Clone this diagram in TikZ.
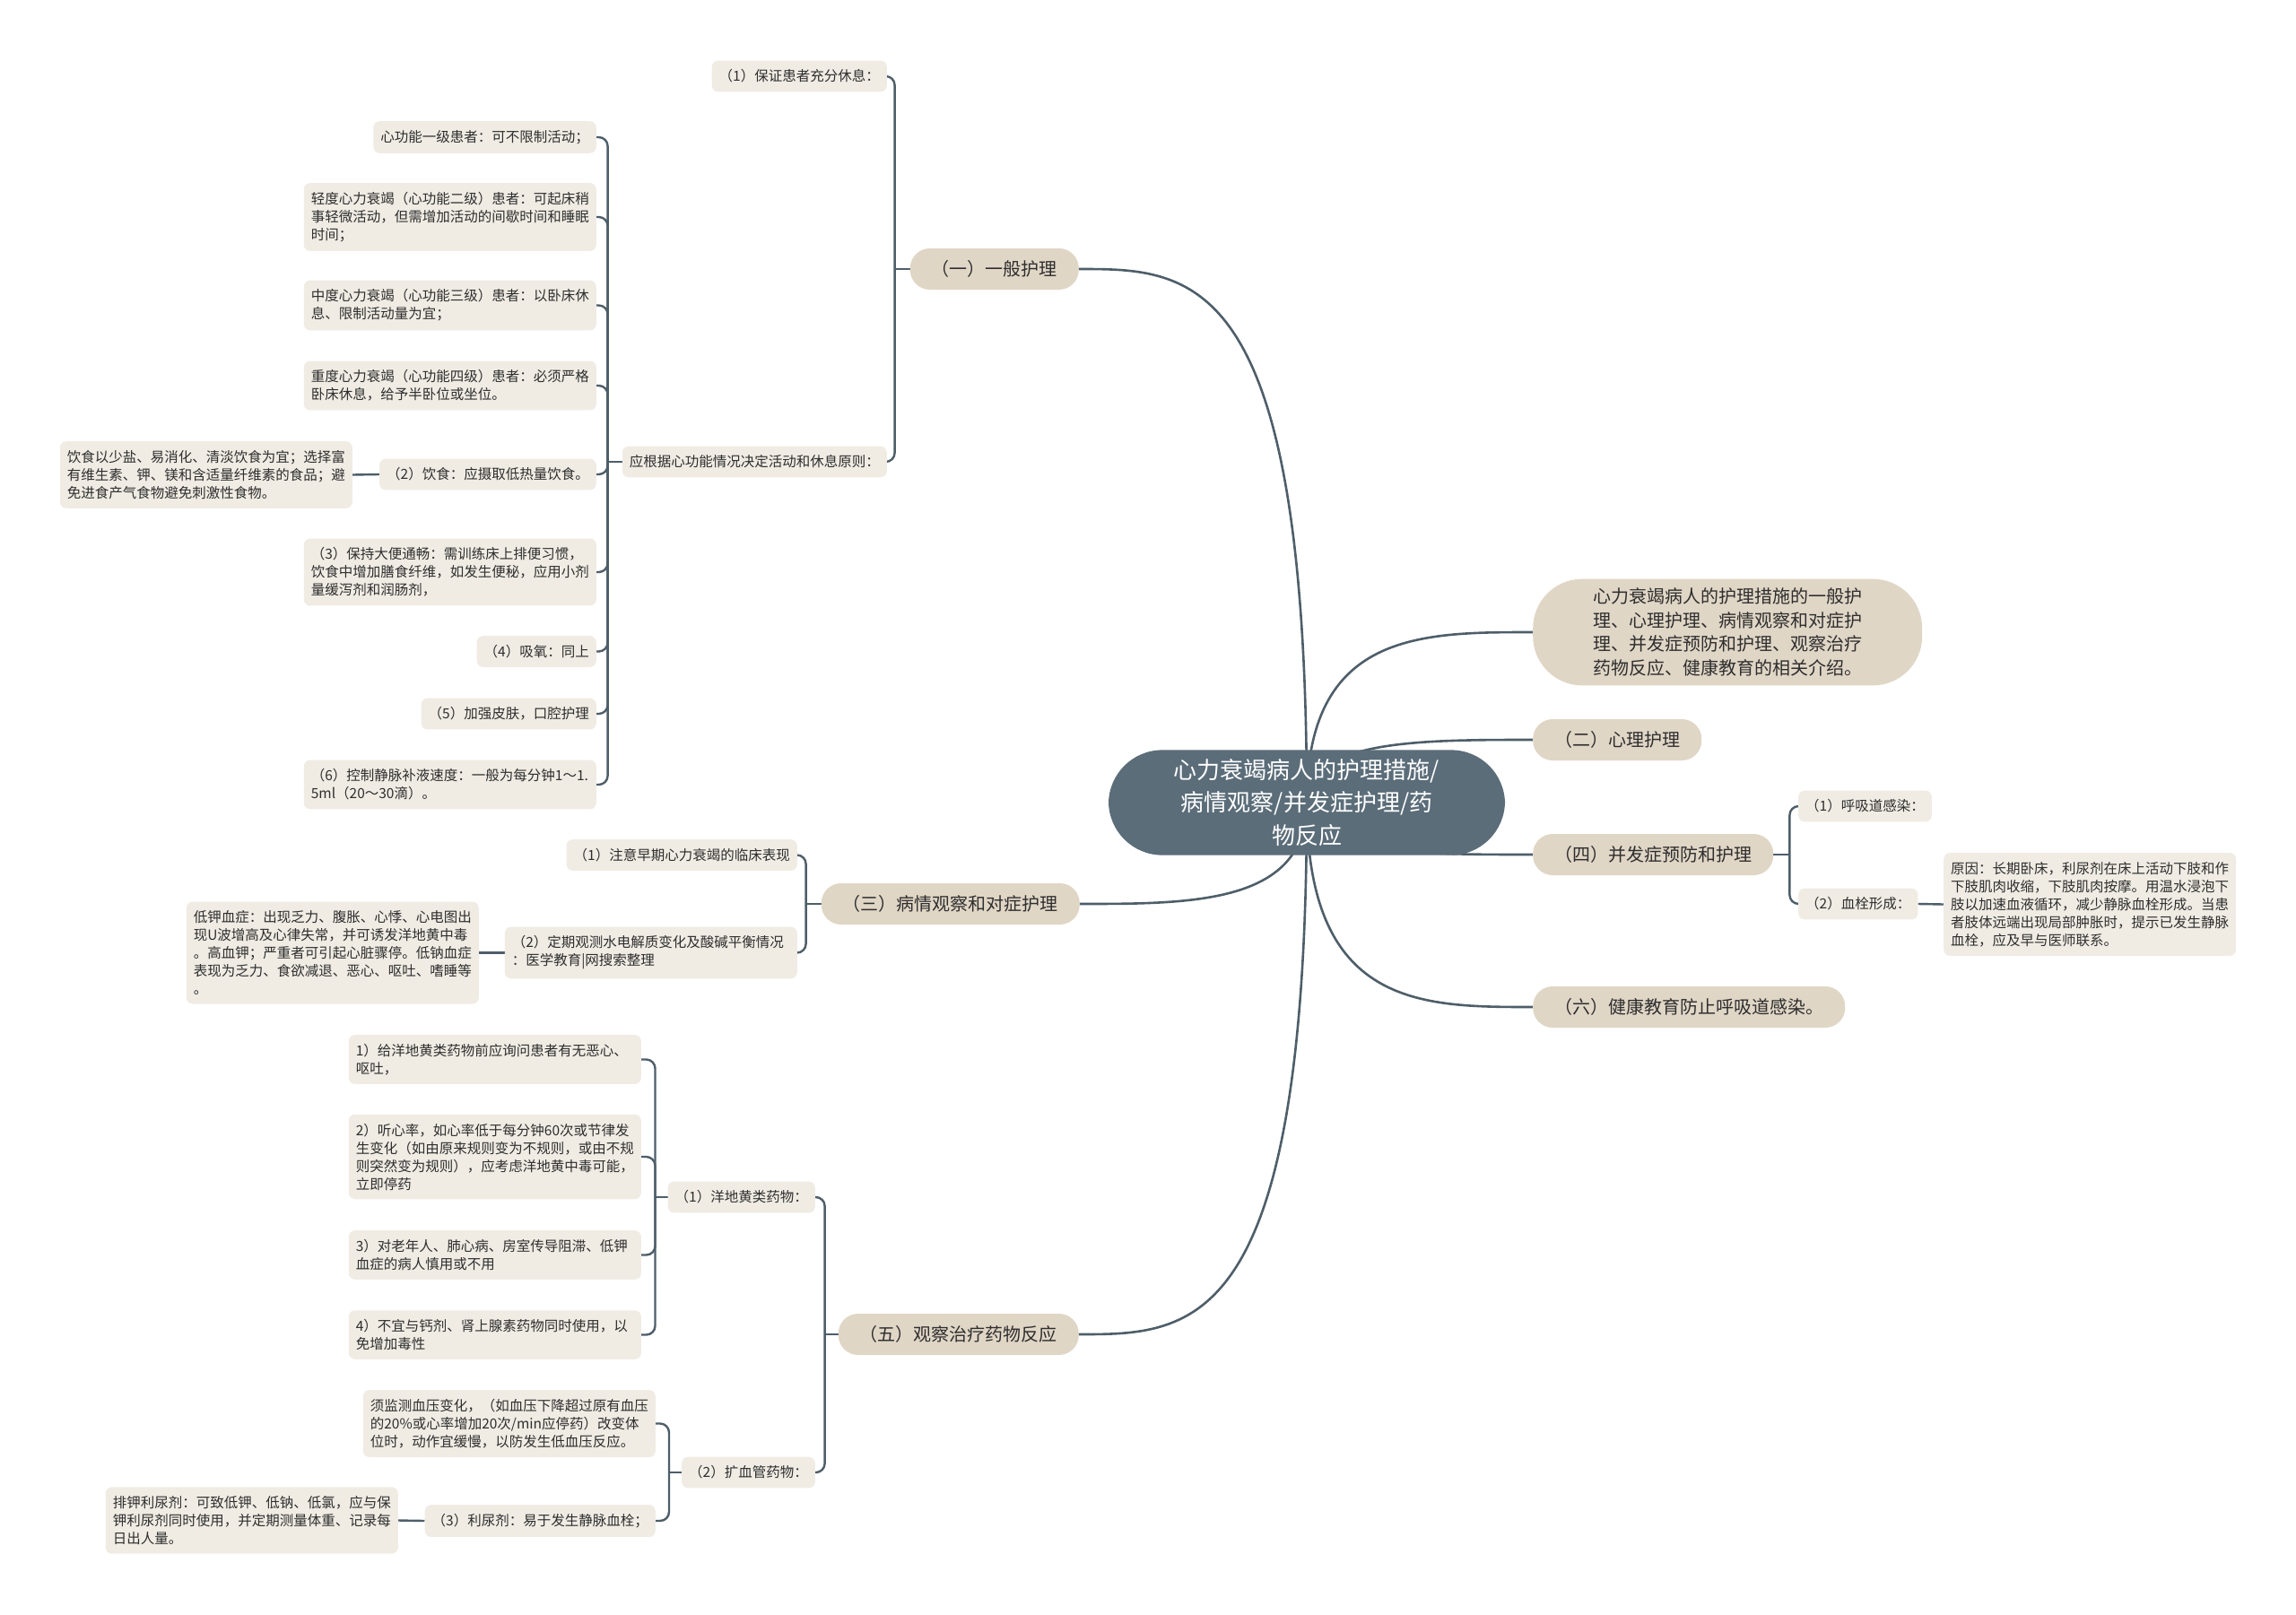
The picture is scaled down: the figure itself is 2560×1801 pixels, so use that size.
\documentclass[tikz,border=0pt]{standalone}
\usepackage{fontspec}
\setmainfont{Noto Sans CJK SC}
\usetikzlibrary{backgrounds,calc}
\definecolor{rootc}{HTML}{5B6D79}
\definecolor{branchc}{HTML}{E0D6C6}
\definecolor{leafc}{HTML}{F0ECE4}
\definecolor{linec}{HTML}{4E5E69}
\definecolor{txt}{HTML}{2E2E2E}
\begin{document}
\begin{tikzpicture}[x=1pt,y=-1pt,
  rootbox/.style={fill=rootc, text=white, rounded corners=60pt, align=center, text width=300pt, inner xsep=71pt, inner ysep=10pt, font=\fontsize{26}{36.5}\selectfont},
  introbox/.style={fill=branchc, text=txt, rounded corners=55pt, align=left, text width=300pt, inner xsep=67pt, inner ysep=10pt, font=\fontsize{20}{26.7}\selectfont},
  branchbox/.style={fill=branchc, text=txt, rounded corners=22pt, inner xsep=24pt, inner ysep=0pt, minimum height=46pt, font=\fontsize{20}{26.7}\selectfont},
  leafbox/.style={fill=leafc, text=txt, rounded corners=7pt, inner xsep=8pt, inner ysep=10pt, minimum height=34pt, font=\fontsize{15.5}{20}\selectfont},
  wide/.style={text width=310pt, align=left},
  conn/.style={draw=linec, line width=2.6pt},
  bconn/.style={draw=linec, line width=2.4pt, rounded corners=10pt},
]
\useasboundingbox (0,0) rectangle (2560,1801);

% root
\node[rootbox] (root) at (1457,895) {心力衰竭病人的护理措施/\\病情观察/并发症护理/药\\物反应};

% right side
\node[introbox, anchor=west] (intro) at (1709,705) {心力衰竭病人的护理措施的一般护\\理、心理护理、病情观察和对症护\\理、并发症预防和护理、观察治疗\\药物反应、健康教育的相关介绍。};
\node[branchbox, anchor=west] (b2) at (1709,825) {（二）心理护理};
\node[branchbox, anchor=west] (b4) at (1709,953) {（四）并发症预防和护理};
\node[branchbox, anchor=west] (b6) at (1709,1123) {（六）健康教育防止呼吸道感染。};
\node[leafbox, anchor=west] (b4a) at (2005,899) {（1）呼吸道感染：};
\node[leafbox, anchor=west] (b4b) at (2005,1008) {（2）血栓形成：};
\node[leafbox, wide, anchor=west] (b4bx) at (2167,1008.5) {原因：长期卧床，利尿剂在床上活动下肢和作\\下肢肌肉收缩，下肢肌肉按摩。用温水浸泡下\\肢以加速血液循环，减少静脉血栓形成。当患\\者肢体远端出现局部肿胀时，提示已发生静脉\\血栓，应及早与医师联系。};

% left: (一)
\node[branchbox, anchor=east] (b1) at (1203,300) {（一）一般护理};
\node[leafbox, anchor=east] (b1a) at (989,85) {（1）保证患者充分休息：};
\node[leafbox, anchor=east] (b1b) at (989,515) {应根据心功能情况决定活动和休息原则：};
\node[leafbox, anchor=east] (c1) at (665,153) {心功能一级患者：可不限制活动；};
\node[leafbox, wide, anchor=east] (c2) at (665,242) {轻度心力衰竭（心功能二级）患者：可起床稍\\事轻微活动，但需增加活动的间歇时间和睡眠\\时间；};
\node[leafbox, wide, anchor=east] (c3) at (665,340.5) {中度心力衰竭（心功能三级）患者：以卧床休\\息、限制活动量为宜；};
\node[leafbox, wide, anchor=east] (c4) at (665,430) {重度心力衰竭（心功能四级）患者：必须严格\\卧床休息，给予半卧位或坐位。};
\node[leafbox, anchor=east] (c5) at (665,529) {（2）饮食：应摄取低热量饮食。};
\node[leafbox, wide, anchor=east] (c5x) at (393,529.5) {饮食以少盐、易消化、清淡饮食为宜；选择富\\有维生素、钾、镁和含适量纤维素的食品；避\\免进食产气食物避免刺激性食物。};
\node[leafbox, wide, anchor=east] (c6) at (665,638) {（3）保持大便通畅：需训练床上排便习惯，\\饮食中增加膳食纤维，如发生便秘，应用小剂\\量缓泻剂和润肠剂，};
\node[leafbox, anchor=east] (c7) at (665,726.5) {（4）吸氧：同上};
\node[leafbox, anchor=east] (c8) at (665,796) {（5）加强皮肤，口腔护理};
\node[leafbox, wide, anchor=east] (c9) at (665,875) {（6）控制静脉补液速度：一般为每分钟1～1.\\5ml（20～30滴）。};

% left: (三)
\node[branchbox, anchor=east] (b3) at (1204,1008) {（三）病情观察和对症护理};
\node[leafbox, anchor=east] (b3a) at (889,953.5) {（1）注意早期心力衰竭的临床表现};
\node[leafbox, wide, anchor=east] (b3b) at (889,1062.5) {（2）定期观测水电解质变化及酸碱平衡情况\\：医学教育|网搜索整理};
\node[leafbox, wide, anchor=east] (b3bx) at (534,1062.5) {低钾血症：出现乏力、腹胀、心悸、心电图出\\现U波增高及心律失常，并可诱发洋地黄中毒\\。高血钾；严重者可引起心脏骤停。低钠血症\\表现为乏力、食欲减退、恶心、呕吐、嗜睡等\\。};

% left: (五)
\node[branchbox, anchor=east] (b5) at (1203,1488) {（五）观察治疗药物反应};
\node[leafbox, anchor=east] (b5a) at (909,1335) {（1）洋地黄类药物：};
\node[leafbox, wide, anchor=east] (d1) at (715,1181.5) {1）给洋地黄类药物前应询问患者有无恶心、\\呕吐，};
\node[leafbox, wide, anchor=east] (d2) at (715,1290) {2）听心率，如心率低于每分钟60次或节律发\\生变化（如由原来规则变为不规则，或由不规\\则突然变为规则），应考虑洋地黄中毒可能，\\立即停药};
\node[leafbox, wide, anchor=east] (d3) at (715,1399.5) {3）对老年人、肺心病、房室传导阻滞、低钾\\血症的病人慎用或不用};
\node[leafbox, wide, anchor=east] (d4) at (715,1488.5) {4）不宜与钙剂、肾上腺素药物同时使用，以\\免增加毒性};
\node[leafbox, anchor=east] (b5b) at (909,1642) {（2）扩血管药物：};
\node[leafbox, wide, anchor=east] (e1) at (731,1587.5) {须监测血压变化，（如血压下降超过原有血压\\的20\%或心率增加20次/min应停药）改变体\\位时，动作宜缓慢，以防发生低血压反应。};
\node[leafbox, anchor=east] (e2) at (731,1696) {（3）利尿剂：易于发生静脉血栓；};
\node[leafbox, wide, anchor=east] (e2x) at (444,1695.5) {排钾利尿剂：可致低钾、低钠、低氯，应与保\\钾利尿剂同时使用，并定期测量体重、记录每\\日出人量。};

% junctions
\coordinate (j1) at ($(b1.west)+(-17,0)$);
\coordinate (j1b) at ($(b1b.west)+(-16,0)$);
\coordinate (j3) at ($(b3.west)+(-17,0)$);
\coordinate (j5) at ($(b5.west)+(-15,0)$);
\coordinate (j5a) at ($(b5a.west)+(-14,0)$);
\coordinate (j5b) at ($(b5b.west)+(-14,0)$);
\coordinate (j4) at ($(b4.east)+(18,0)$);

\begin{pgfonlayer}{background}
\fill[white] (0,0) rectangle (2560,1801);
% root curves
\foreach \b/\a in {b1/east,b3/east,b5/east,intro/west,b2/west,b4/west,b6/west} {
  \draw[conn] (root.center) .. controls (root.center |- \b.\a) and ($(root.center |- \b.\a)!0.5!(\b.\a)$) .. (\b.\a);
}
% brackets
\draw[bconn] (b1.west) -- (j1);
\draw[bconn] (j1) |- (b1a.east);
\draw[bconn] (j1) |- (b1b.east);
\draw[bconn] (b1b.west) -- (j1b);
\foreach \c in {c1,c2,c3,c4,c5,c6,c7,c8,c9} { \draw[bconn] (j1b) |- (\c.east); }
\draw[bconn] (c5.west) -- (c5x.east);
\draw[bconn] (b3.west) -- (j3);
\draw[bconn] (j3) |- (b3a.east);
\draw[bconn] (j3) |- (b3b.east);
\draw[bconn] (b3b.west) -- (b3bx.east);
\draw[bconn] (b5.west) -- (j5);
\draw[bconn] (j5) |- (b5a.east);
\draw[bconn] (j5) |- (b5b.east);
\draw[bconn] (b5a.west) -- (j5a);
\foreach \c in {d1,d2,d3,d4} { \draw[bconn] (j5a) |- (\c.east); }
\draw[bconn] (b5b.west) -- (j5b);
\draw[bconn] (j5b) |- (e1.east);
\draw[bconn] (j5b) |- (e2.east);
\draw[bconn] (e2.west) -- (e2x.east);
\draw[bconn] (b4.east) -- (j4);
\draw[bconn] (j4) |- (b4a.west);
\draw[bconn] (j4) |- (b4b.west);
\draw[bconn] (b4b.east) -- (b4bx.west);
\end{pgfonlayer}
\end{tikzpicture}
\end{document}
